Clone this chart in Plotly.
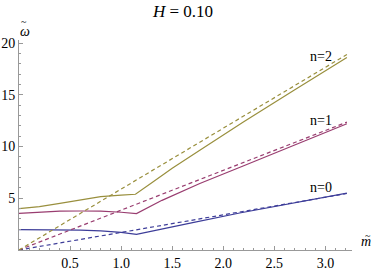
import plotly.graph_objects as go

# Solid curves
m0 = [0, 0.3, 0.6, 0.8, 1.0, 1.15, 1.4, 1.7, 2.16, 2.7, 3.21]
w0 = [1.97, 1.97, 1.93, 1.84, 1.70, 1.52, 2.05, 2.65, 3.58, 4.57, 5.5]
m1 = [0, 0.2, 0.4, 0.6, 0.8, 1.0, 1.15, 1.4, 1.77, 2.2, 2.7, 3.21]
w1 = [3.55, 3.68, 3.75, 3.77, 3.75, 3.65, 3.52, 4.8, 6.43, 8.15, 10.15, 12.2]
m2 = [0, 0.2, 0.4, 0.6, 0.8, 1.0, 1.14, 1.3, 1.5, 1.77, 2.2, 2.7, 3.21]
w2 = [4.0, 4.2, 4.5, 4.8, 5.15, 5.3, 5.39, 6.5, 7.9, 9.65, 12.4, 15.5, 18.6]
# Dashed asymptotes
md = [0, 3.21]
wd0 = [0, 5.46]
wd1 = [0, 12.36]
wd2 = [0, 18.9]

labels = ["n=0", "n=1", "n=2"]
label_m = [2.96, 2.96, 2.96]
label_w = [6.0, 12.5, 18.7]

c0 = "#3D3D99"
c1 = "#993D70"
c2 = "#998F3D"

fig = go.Figure()
for m, w, c in [(m0, w0, c0), (m1, w1, c1), (m2, w2, c2)]:
    fig.add_trace(go.Scatter(x=m, y=w, mode="lines", line=dict(color=c, width=1.2), showlegend=False))
for w, c in [(wd0, c0), (wd1, c1), (wd2, c2)]:
    fig.add_trace(go.Scatter(x=md, y=w, mode="lines", line=dict(color=c, width=1.2, dash="4px,3px"), showlegend=False))

font = "Liberation Serif"
W, H = 374, 271
L, R, T, B = 19, 22, 40, 21
pw, ph = W - L - R, H - T - B

def px2paper(px, py):
    return (px - L) / pw, (H - B - py) / ph

ann = []
for t, x, y in zip(labels, label_m, label_w):
    ann.append(dict(x=x, y=y, xref="x", yref="y", text=t, showarrow=False, font=dict(family=font, size=14, color="black")))
ax_, ay_ = px2paper(18, 22)
ann.append(dict(x=ax_, y=ay_, xref="paper", yref="paper", text="<i>ω</i>", showarrow=False,
                font=dict(family=font, size=14, color="black")))
ax_, ay_ = px2paper(19, 14)
ann.append(dict(x=ax_, y=ay_, xref="paper", yref="paper", text="~", showarrow=False,
                font=dict(family=font, size=10, color="black")))
ax_, ay_ = px2paper(373, 251)
ann.append(dict(x=ax_, y=ay_, xref="paper", yref="paper", text="<i>m</i>", showarrow=False, xanchor="right",
                font=dict(family=font, size=14, color="black")))
ax_, ay_ = px2paper(373, 243)
ann.append(dict(x=ax_, y=ay_, xref="paper", yref="paper", text="~", showarrow=False, xanchor="right",
                font=dict(family=font, size=10, color="black")))

fig.update_layout(
    width=W, height=H,
    margin=dict(l=L, r=R, t=T, b=B),
    plot_bgcolor="white", paper_bgcolor="white",
    title=dict(text="<i>H</i> = 0.10", x=183 / W, xanchor="center", y=1 - 11 / H, yanchor="middle",
               font=dict(family=font, size=17, color="black")),
    annotations=ann,
    xaxis=dict(range=[0, 3.26], showgrid=False, zeroline=False, showline=True, linecolor="#999999", linewidth=1,
               automargin=False,
               tickvals=[0.5, 1.0, 1.5, 2.0, 2.5, 3.0], ticktext=["0.5", "1.0", "1.5", "2.0", "2.5", "3.0"],
               ticks="inside", ticklen=4, tickcolor="#999999",
               minor=dict(dtick=0.1, tick0=0, ticks="inside", ticklen=2, tickcolor="#999999"),
               tickfont=dict(family=font, size=14, color="black")),
    yaxis=dict(range=[0, 20.3], showgrid=False, zeroline=False, showline=True, linecolor="#999999", linewidth=1,
               automargin=False,
               tickvals=[5, 10, 15, 20], ticks="inside", ticklen=4, tickcolor="#999999",
               minor=dict(dtick=1, tick0=0, ticks="inside", ticklen=2, tickcolor="#999999"),
               tickfont=dict(family=font, size=14, color="black")),
)

fig.write_html("out.html", config={"displayModeBar": False},
               post_script="document.body.style.margin='0';document.body.style.overflow='hidden';")
